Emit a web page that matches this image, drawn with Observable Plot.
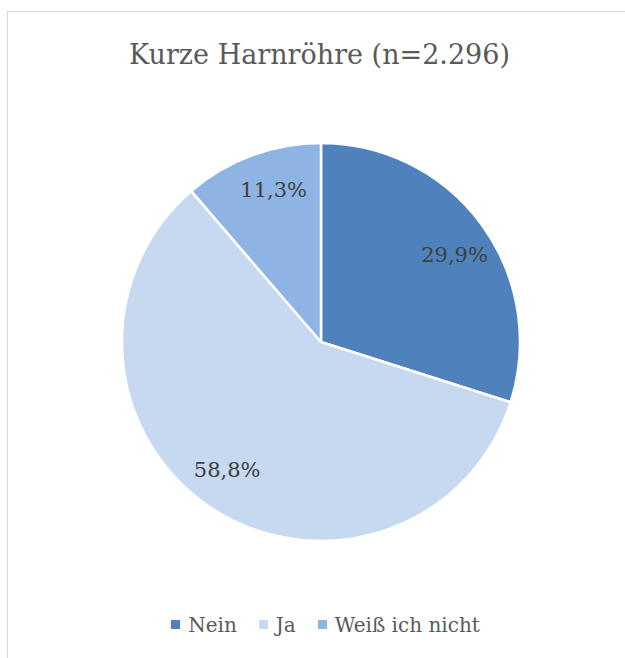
<!DOCTYPE html>
<html>
<head>
<meta charset="utf-8">
<script src="https://cdn.jsdelivr.net/npm/d3@7"></script>
<script src="https://cdn.jsdelivr.net/npm/@observablehq/plot@0.6"></script>
<style>
  html, body { margin: 0; padding: 0; background: #fff; }
  #wrap { position: relative; width: 625px; height: 658px; overflow: hidden; font-family: "DejaVu Serif", "Times New Roman", serif; }
  #frame { position: absolute; left: 7px; top: 11px; width: 700px; height: 700px; border: 1.5px solid #d9d9d9; box-sizing: border-box; }
  #title { position: absolute; left: 0; width: 639px; top: 41px; text-align: center; font-size: 27px; line-height: 27px; color: #595959; white-space: nowrap; }
  #chart { position: absolute; left: 0; top: 100px; }
  #legend { position: absolute; left: 0; width: 651px; top: 615px; text-align: center; font-size: 20px; line-height: 20px; color: #595959; white-space: nowrap; }
  .item { display: inline-block; margin: 0 11px; }
  .sw { display: inline-block; width: 9px; height: 9px; margin-right: 8px; margin-bottom: 3px; vertical-align: baseline; }
</style>
</head>
<body>
<div id="wrap">
  <div id="frame"></div>
  <div id="title"></div>
  <div id="chart"></div>
  <div id="legend"></div>
</div>
<script>
const titleText = "Kurze Harnröhre (n=2.296)";
const categories = ["Nein", "Ja", "Weiß ich nicht"];
const values = [29.9, 58.8, 11.3];
const labels = ["29,9%", "58,8%", "11,3%"];
const colors = ["#4F81BD", "#C6D9F1", "#8EB4E3"];

const rows = categories.map((c, i) => ({category: c, value: values[i], label: labels[i]}));
const arcs = d3.pie().sort(null).value(d => d.value)(rows);
const labelRadius = 0.8;
const labelData = arcs.map(a => {
  const mid = (a.startAngle + a.endAngle) / 2 + 0.05;
  return {label: a.data.label, x: labelRadius * Math.sin(mid), y: labelRadius * Math.cos(mid)};
});

const W = 625, H = 480, R = 199, CX = 321, CY = 242;

function pieMark(index, scales, vals, dimensions) {
  const cx = scales.x(0), cy = scales.y(0);
  const r = scales.x(1) - scales.x(0);
  const arcGen = d3.arc().innerRadius(0).outerRadius(r);
  const g = d3.create("svg:g").attr("transform", `translate(${cx},${cy})`);
  g.selectAll("path").data(arcs).join("path")
    .attr("d", arcGen)
    .attr("fill", (d, i) => colors[i])
    .attr("stroke", "#fff")
    .attr("stroke-width", 2.5)
    .attr("stroke-linejoin", "round");
  return g.node();
}

const plot = Plot.plot({
  width: W,
  height: H,
  margin: 0,
  x: {domain: [-CX / R, (W - CX) / R], axis: null},
  y: {domain: [-(H - CY) / R, CY / R], axis: null},
  style: {background: "transparent", overflow: "visible", fontFamily: "'DejaVu Serif', serif"},
  marks: [
    pieMark,
    Plot.text(labelData, {x: "x", y: "y", text: "label", fill: "#404040", fontSize: 21, fontFamily: "DejaVu Serif"})
  ]
});
document.getElementById("chart").appendChild(plot);
document.getElementById("title").textContent = titleText;

const legend = document.getElementById("legend");
categories.forEach((c, i) => {
  const item = document.createElement("span");
  item.className = "item";
  const sw = document.createElement("span");
  sw.className = "sw";
  sw.style.background = colors[i];
  item.appendChild(sw);
  item.appendChild(document.createTextNode(c));
  legend.appendChild(item);
});
</script>
</body>
</html>
